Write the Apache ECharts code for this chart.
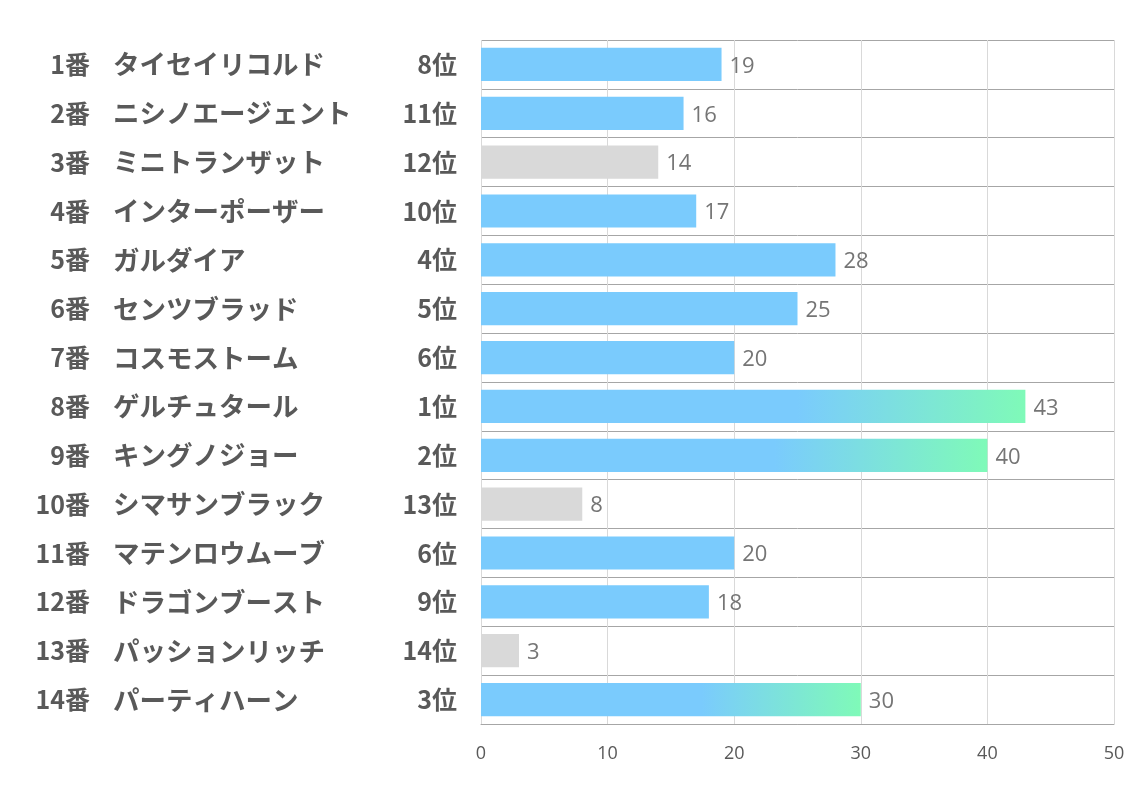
<!DOCTYPE html>
<html><head><meta charset="utf-8">
<script src="https://cdn.jsdelivr.net/npm/echarts@6/dist/echarts.min.js"></script>
<style>html,body{margin:0;padding:0;background:#fff}#c{width:1134px;height:793px}</style>
</head><body><div id="c"></div>
<script>
const nums = ['1番','2番','3番','4番','5番','6番','7番','8番','9番','10番','11番','12番','13番','14番'];
const names = ['タイセイリコルド','ニシノエージェント','ミニトランザット','インターポーザー','ガルダイア','センツブラッド','コスモストーム','ゲルチュタール','キングノジョー','シマサンブラック','マテンロウムーブ','ドラゴンブースト','パッションリッチ','パーティハーン'];
const ranks = ['8位','11位','12位','10位','4位','5位','6位','1位','2位','13位','6位','9位','14位','3位'];
const values = [19,16,14,17,28,25,20,43,40,8,20,18,3,30];
const xTicks = [0,10,20,30,40,50];

const BLUE = '#7acbfd', GREEN = '#7ffab8', GRAY = '#d9d9d9';
function colorFor(rank){
  const r = parseInt(rank);
  if (r <= 3) return {type:'linear',x:0,y:0,x2:1,y2:0,colorStops:[{offset:0,color:BLUE},{offset:0.58,color:BLUE},{offset:1,color:GREEN}]};
  if (r >= 12) return GRAY;
  return BLUE;
}
function labelFont(size){ return {fontFamily:'"Noto Sans CJK JP"', fontWeight:'bold', fontSize:size, color:'#595959'}; }
function catAxis(data, margin, align, size, extra){
  return Object.assign({
    type:'category', data:data, inverse:true, position:'left',
    axisLine:{show:false}, axisTick:{show:false}, splitLine:{show:false},
    axisLabel:Object.assign({margin:margin, align:align}, labelFont(size))
  }, extra||{});
}
const chart = echarts.init(document.getElementById('c'));
chart.setOption({
  animation:false,
  grid:{left:481, right:20, top:40, bottom:69, containLabel:false},
  xAxis:{type:'value', min:0, max:50, interval:10,
    axisLine:{show:true, lineStyle:{color:'#a6a6a6'}}, axisTick:{show:false},
    splitLine:{show:true, lineStyle:{color:'#d9d9d9'}},
    axisLabel:{margin:21, color:'#595959', fontSize:18, fontFamily:'"Open Sans"',
      formatter:function(v){return xTicks.indexOf(v)>=0? String(v):'';}}},
  yAxis:[
    catAxis(ranks, 24, 'right', 25, {splitLine:{show:true, lineStyle:{color:'#a6a6a6'}}}),
    catAxis(names, 368, 'left', 26.5),
    catAxis(nums, 391, 'right', 25)
  ],
  series:[{
    type:'bar', yAxisIndex:0, barWidth:'68%',
    data: values.map((v,i)=>({value:v, itemStyle:{color:colorFor(ranks[i])}})),
    label:{show:true, position:'right', distance:8, offset:[0,2], color:'#757575', fontSize:22, fontFamily:'"Open Sans"'}
  }]
});
</script></body></html>
